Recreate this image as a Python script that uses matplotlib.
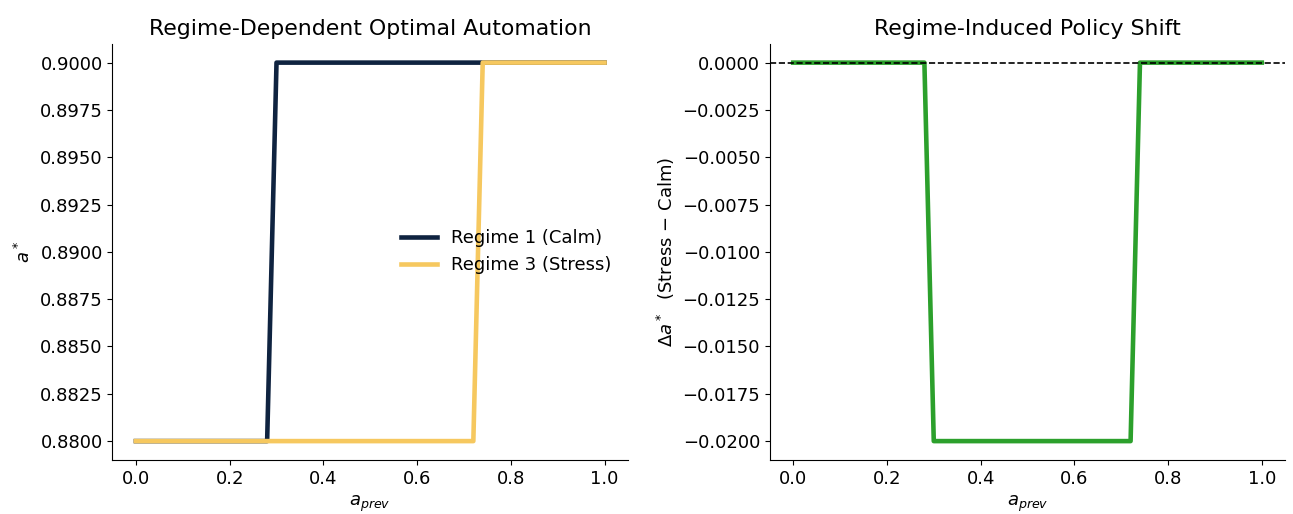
import numpy as np
import matplotlib.pyplot as plt

# breakpoints of the policy curves
a_prev = [0.0, 0.28, 0.30, 0.72, 0.74, 1.0]
calm = [0.88, 0.88, 0.90, 0.90, 0.90, 0.90]
stress = [0.88, 0.88, 0.88, 0.88, 0.90, 0.90]

delta = np.array(stress) - np.array(calm)

plt.rcParams['font.size'] = 13

fig, (ax1, ax2) = plt.subplots(1, 2, figsize=(12.93, 5.14), dpi=100)

ax1.plot(a_prev, calm, color="#0f2340", lw=3.3, label="Regime 1 (Calm)")
ax1.plot(a_prev, stress, color="#f6c85f", lw=3.3, label="Regime 3 (Stress)")
ax1.set_title("Regime-Dependent Optimal Automation", fontsize=15.8)
ax1.set_xlabel("$a_{prev}$")
ax1.set_ylabel("$a^*$")
ax1.legend(loc="center right", frameon=False, fontsize=13)

ax2.plot(a_prev, delta, color="#2ca02c", lw=3.3)
ax2.axhline(0, color="black", ls="--", lw=1.2)
ax2.set_title("Regime-Induced Policy Shift", fontsize=15.8)
ax2.set_xlabel("$a_{prev}$")
ax2.set_ylabel("$\\Delta a^*$  (Stress $-$ Calm)")

for ax in (ax1, ax2):
    ax.spines["top"].set_visible(False)
    ax.spines["right"].set_visible(False)

fig.subplots_adjust(left=0.087, right=0.994, bottom=0.105, top=0.915, wspace=0.275)
fig.savefig("out.png")
